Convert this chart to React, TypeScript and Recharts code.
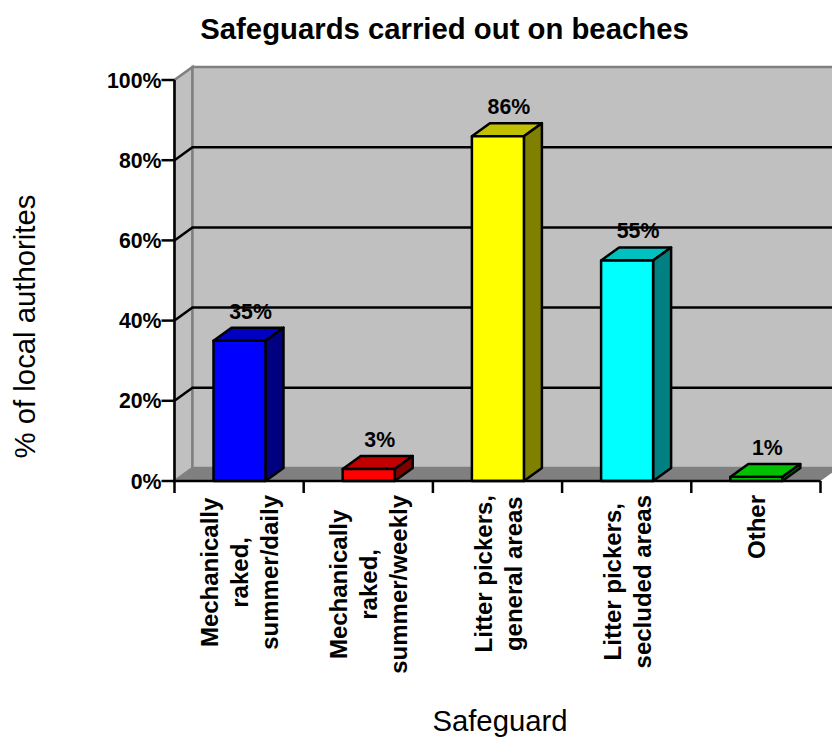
import { BarChart, Bar, XAxis, YAxis, CartesianGrid, LabelList } from 'recharts';

const categories = [
  ['Mechanically', 'raked,', 'summer/daily'],
  ['Mechanically', 'raked,', 'summer/weekly'],
  ['Litter pickers,', 'general areas'],
  ['Litter pickers,', 'secluded areas'],
  ['Other'],
];
const values = [35, 3, 86, 55, 1];
const frontColors = ['#0000FF', '#FF0000', '#FFFF00', '#00FFFF', '#00FF00'];
const topColors = ['#0000C0', '#C00000', '#C0C000', '#00C0C0', '#00C000'];
const sideColors = ['#000080', '#800000', '#808000', '#008080', '#008000'];
const yTicks = [0, 20, 40, 60, 80, 100];

const data = categories.map((lines, i) => ({ name: lines.join(' '), value: values[i], lines }));

const FONT = '"Liberation Sans", Arial, sans-serif';
const DX = 18;
const DY = 13;

const measure = (text: string) => {
  const ctx = document.createElement('canvas').getContext('2d');
  if (!ctx) return text.length * 12;
  ctx.font = 'bold 24px "Liberation Sans"';
  return ctx.measureText(text).width;
};

const Bar3D = (props: any) => {
  const { x, y, width, height, index } = props;
  const b = y + height;
  const r = x + width;
  return (
    <g stroke="#000" strokeWidth={2.5} strokeLinejoin="round">
      <polygon points={`${x},${y} ${x + DX},${y - DY} ${r + DX},${y - DY} ${r},${y}`} fill={topColors[index]} />
      <polygon points={`${r},${y} ${r + DX},${y - DY} ${r + DX},${b - DY} ${r},${b}`} fill={sideColors[index]} />
      <rect x={x} y={y} width={width} height={height} fill={frontColors[index]} />
    </g>
  );
};

// the grid draws the walls and floor too, so the lines end up on top of them
const GridLine = (props: any) => {
  const { x1, x2, y1, index, y, height } = props;
  if (index === 0) {
    const b = y + height;
    return (
      <g>
        <polygon points={`${x1},${b} ${x1 + DX},${b - DY} ${x1 + DX},${y - DY} ${x1},${y}`} fill="#C0C0C0" stroke="#808080" strokeWidth={2.5} />
        <polygon points={`${x1 + DX},${y - DY} ${x2 + DX},${y - DY} ${x2 + DX},${b - DY} ${x1 + DX},${b - DY}`} fill="#C0C0C0" stroke="#808080" strokeWidth={2.5} />
        <polygon points={`${x1},${b} ${x1 + DX},${b - DY} ${x2 + DX},${b - DY} ${x2},${b}`} fill="#808080" />
      </g>
    );
  }
  if (index === yTicks.length - 1) return <g />;
  return (
    <path
      d={`M${x1},${y1} L${x1 + DX},${y1 - DY} L${x2 + DX},${y1 - DY}`}
      fill="none"
      stroke="#000"
      strokeWidth={2.5}
    />
  );
};

const CategoryTick = (props: any) => {
  const { x, y, index, width } = props;
  const lines = categories[index];
  const step = width / categories.length;
  const lineHeight = 30;
  const start = x - ((lines.length - 1) * lineHeight) / 2 + 9;
  const mid = y + 6 + Math.max(...lines.map(measure)) / 2;
  const axisY = y - 8;
  return (
    <g>
      <line x1={x - step / 2} x2={x - step / 2} y1={axisY} y2={axisY + 12} stroke="#000" strokeWidth={2.5} />
      {index === categories.length - 1 && (
        <line x1={x + step / 2} x2={x + step / 2} y1={axisY} y2={axisY + 12} stroke="#000" strokeWidth={2.5} />
      )}
      {lines.map((line, i) => (
        <text
          key={line}
          transform={`translate(${start + i * lineHeight},${mid}) rotate(-90)`}
          textAnchor="middle"
          fontFamily={FONT}
          fontWeight="bold"
          fontSize={24}
          fill="#000"
        >
          {line}
        </text>
      ))}
    </g>
  );
};

const BarLabel = (props: any) => {
  const { x, y, width, value } = props;
  return (
    <text x={x + width / 2 + 11} y={y - DY - 9} textAnchor="middle" fontFamily={FONT} fontWeight="bold" fontSize={21.3} fill="#000">
      {value}%
    </text>
  );
};

const App = () => (
  <div style={{ position: 'absolute', left: 0, top: 0, width: 832, height: 738, overflow: 'hidden', background: '#fff' }}>
    <BarChart
      width={832}
      height={738}
      data={data}
      margin={{ top: 80, right: 11.5, bottom: 0, left: 0 }}
      barSize={52}
    >
      <CartesianGrid vertical={false} horizontal={<GridLine />} />
      <XAxis
        dataKey="name"
        axisLine={{ stroke: '#000', strokeWidth: 2.5 }}
        tickLine={false}
        interval={0}
        tick={CategoryTick}
        height={257}
      />
      <YAxis
        type="number"
        domain={[0, 100]}
        ticks={yTicks}
        tickFormatter={(v: number) => `${v}%`}
        axisLine={{ stroke: '#000', strokeWidth: 2.5 }}
        tickLine={{ stroke: '#000', strokeWidth: 2.5 }}
        tickSize={13}
        tickMargin={0}
        tick={{ fontFamily: FONT, fontWeight: 'bold', fontSize: 21.3, fill: '#000' }}
        width={174.5}
      />
      <Bar dataKey="value" isAnimationActive={false} shape={Bar3D}>
        <LabelList dataKey="value" content={BarLabel} />
      </Bar>
      <text x={444.5} y={39} textAnchor="middle" fontFamily={FONT} fontWeight="bold" fontSize={29.3} fill="#000">
        Safeguards carried out on beaches
      </text>
      <text transform="translate(35,326.5) rotate(-90)" textAnchor="middle" fontFamily={FONT} fontSize={29.3} fill="#000">
        % of local authorites
      </text>
      <text x={500} y={731} textAnchor="middle" fontFamily={FONT} fontSize={29.3} fill="#000">
        Safeguard
      </text>
    </BarChart>
  </div>
);

export default App;
